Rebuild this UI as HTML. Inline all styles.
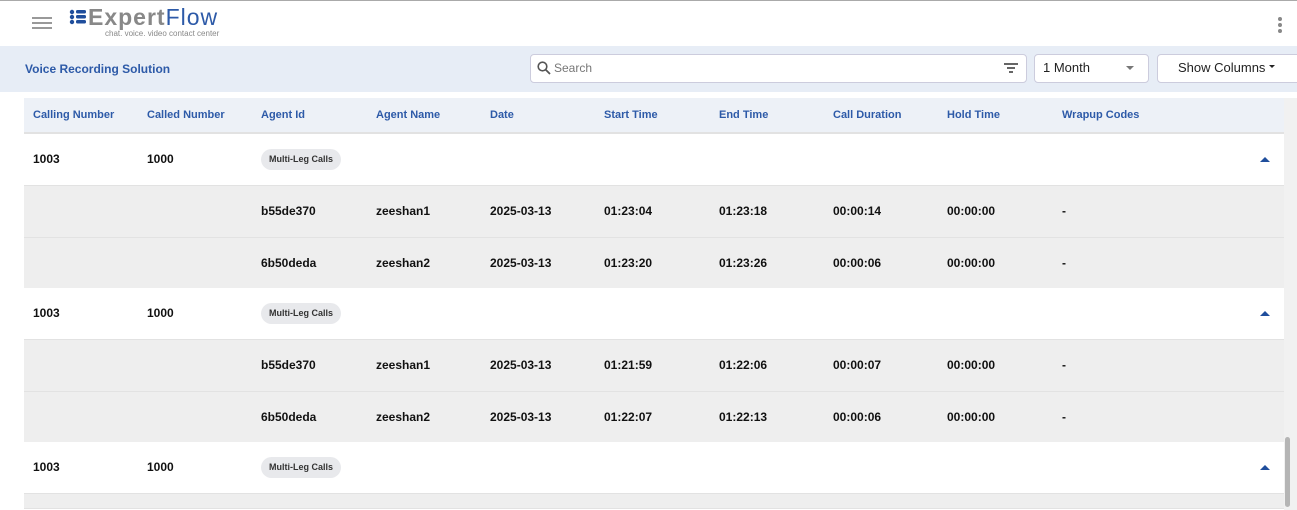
<!DOCTYPE html><html><head><style>
body{margin:0;width:1297px;height:510px;overflow:hidden;background:#fff;font-family:"Liberation Sans",Arial,sans-serif;position:relative}
.abs{position:absolute}
.row{position:absolute;left:24px;width:1260px;height:51px;border-bottom:1px solid #e2e2e2}
.row span{position:absolute;top:0;line-height:51px;font-size:12px;font-weight:bold;color:#111}
.g{background:#fff}.c{background:#eeeeee}
.row .chip{position:absolute;top:15px;height:21px;line-height:21px;padding:0 8px;background:#e8e9ec;border-radius:11px;font-size:9px;color:#333}
.tri{position:absolute;right:14px;top:23px;width:0;height:0;border-left:5px solid transparent;border-right:5px solid transparent;border-bottom:5px solid #1f4e9c}
.hd span{position:absolute;line-height:34px;font-size:11px;font-weight:bold;color:#2d5aa8}
</style></head><body>
<div class="abs" style="left:0;top:0;width:1297px;height:1px;background:#aaa"></div>
<div class="abs" style="left:32px;top:17px;width:20px;height:2px;background:#999;box-shadow:0 5px 0 #999,0 10px 0 #999"></div>
<svg class="abs" style="left:69px;top:9px" width="18" height="16"><g fill="#1f4e9c"><circle cx="3" cy="3" r="2.2"/><circle cx="3" cy="8" r="2.2"/><circle cx="3" cy="13" r="2.2"/><rect x="7" y="1" width="10" height="3.5" rx="1.5"/><rect x="7" y="6" width="10" height="3.5" rx="1.5"/><rect x="7" y="11" width="10" height="3.5" rx="1.5"/></g></svg>
<div class="abs" style="left:88px;top:4px;font-size:23px;font-weight:bold;color:#888;letter-spacing:1px">Expert<span style="color:#2d5aa8;font-weight:normal">Flow</span></div>
<div class="abs" style="left:105px;top:29px;font-size:8px;color:#888">chat. voice. video contact center</div>
<div class="abs" style="left:1278px;top:17px;width:4px;height:4px;border-radius:2px;background:#888;box-shadow:0 6px 0 #888,0 12px 0 #888"></div>
<div class="abs" style="left:0;top:46px;width:1297px;height:46px;background:#e7edf6"></div>
<div class="abs" style="left:25px;top:62px;font-size:12px;font-weight:bold;color:#2d5aa8">Voice Recording Solution</div>
<div class="abs" style="left:530px;top:54px;width:495px;height:27px;background:#fff;border:1px solid #ccd;border-radius:4px"></div>
<svg class="abs" style="left:537px;top:61px" width="14" height="14"><circle cx="5.5" cy="5.5" r="4.3" fill="none" stroke="#555" stroke-width="1.6"/><line x1="8.5" y1="8.5" x2="13" y2="13" stroke="#555" stroke-width="1.8"/></svg>
<div class="abs" style="left:554px;top:61px;font-size:12px;color:#777">Search</div>
<div class="abs" style="left:1004px;top:63px;width:14px;height:1.5px;background:#666"></div>
<div class="abs" style="left:1007px;top:67px;width:8px;height:1.5px;background:#666"></div>
<div class="abs" style="left:1009px;top:71px;width:4px;height:1.5px;background:#666"></div>
<div class="abs" style="left:1034px;top:54px;width:113px;height:27px;background:#fff;border:1px solid #ccd;border-radius:4px"></div>
<div class="abs" style="left:1043px;top:60px;font-size:13px;color:#222">1 Month</div>
<div class="abs" style="left:1126px;top:66px;border-left:4px solid transparent;border-right:4px solid transparent;border-top:4px solid #777"></div>
<div class="abs" style="left:1157px;top:54px;width:145px;height:27px;background:#fff;border:1px solid #ccd;border-radius:4px"></div>
<div class="abs" style="left:1178px;top:60px;font-size:13px;color:#222">Show Columns</div>
<div class="abs" style="left:1269px;top:65px;border-left:3px solid transparent;border-right:3px solid transparent;border-top:3px solid #222"></div>
<div class="abs hd" style="left:24px;top:98px;width:1260px;height:34px;background:#edf1f7;border-bottom:2px solid #e2e2e2">
<span style="left:9px">Calling Number</span><span style="left:123px">Called Number</span><span style="left:237px">Agent Id</span><span style="left:352px">Agent Name</span><span style="left:466px">Date</span><span style="left:580px">Start Time</span><span style="left:695px">End Time</span><span style="left:809px">Call Duration</span><span style="left:923px">Hold Time</span><span style="left:1038px">Wrapup Codes</span></div>

<div class="row g" style="top:134px"><span style="left:9px">1003</span><span style="left:123px">1000</span><span class="chip" style="left:237px">Multi-Leg Calls</span><i class="tri"></i></div>
<div class="row c" style="top:186px"><span style="left:237px">b55de370</span><span style="left:352px">zeeshan1</span><span style="left:466px">2025-03-13</span><span style="left:580px">01:23:04</span><span style="left:695px">01:23:18</span><span style="left:809px">00:00:14</span><span style="left:923px">00:00:00</span><span style="left:1038px">-</span></div>
<div class="row c" style="top:238px"><span style="left:237px">6b50deda</span><span style="left:352px">zeeshan2</span><span style="left:466px">2025-03-13</span><span style="left:580px">01:23:20</span><span style="left:695px">01:23:26</span><span style="left:809px">00:00:06</span><span style="left:923px">00:00:00</span><span style="left:1038px">-</span></div>
<div class="row g" style="top:288px"><span style="left:9px">1003</span><span style="left:123px">1000</span><span class="chip" style="left:237px">Multi-Leg Calls</span><i class="tri"></i></div>
<div class="row c" style="top:340px"><span style="left:237px">b55de370</span><span style="left:352px">zeeshan1</span><span style="left:466px">2025-03-13</span><span style="left:580px">01:21:59</span><span style="left:695px">01:22:06</span><span style="left:809px">00:00:07</span><span style="left:923px">00:00:00</span><span style="left:1038px">-</span></div>
<div class="row c" style="top:392px"><span style="left:237px">6b50deda</span><span style="left:352px">zeeshan2</span><span style="left:466px">2025-03-13</span><span style="left:580px">01:22:07</span><span style="left:695px">01:22:13</span><span style="left:809px">00:00:06</span><span style="left:923px">00:00:00</span><span style="left:1038px">-</span></div>
<div class="row g" style="top:442px"><span style="left:9px">1003</span><span style="left:123px">1000</span><span class="chip" style="left:237px">Multi-Leg Calls</span><i class="tri"></i></div>
<div class="row c" style="top:494px;height:14px"></div>
<div class="abs" style="left:1284px;top:98px;width:13px;height:412px;background:#f1f1f1"></div>
<div class="abs" style="left:1285px;top:437px;width:5px;height:70px;border-radius:3px;background:#b5b5b5"></div>
</body></html>
